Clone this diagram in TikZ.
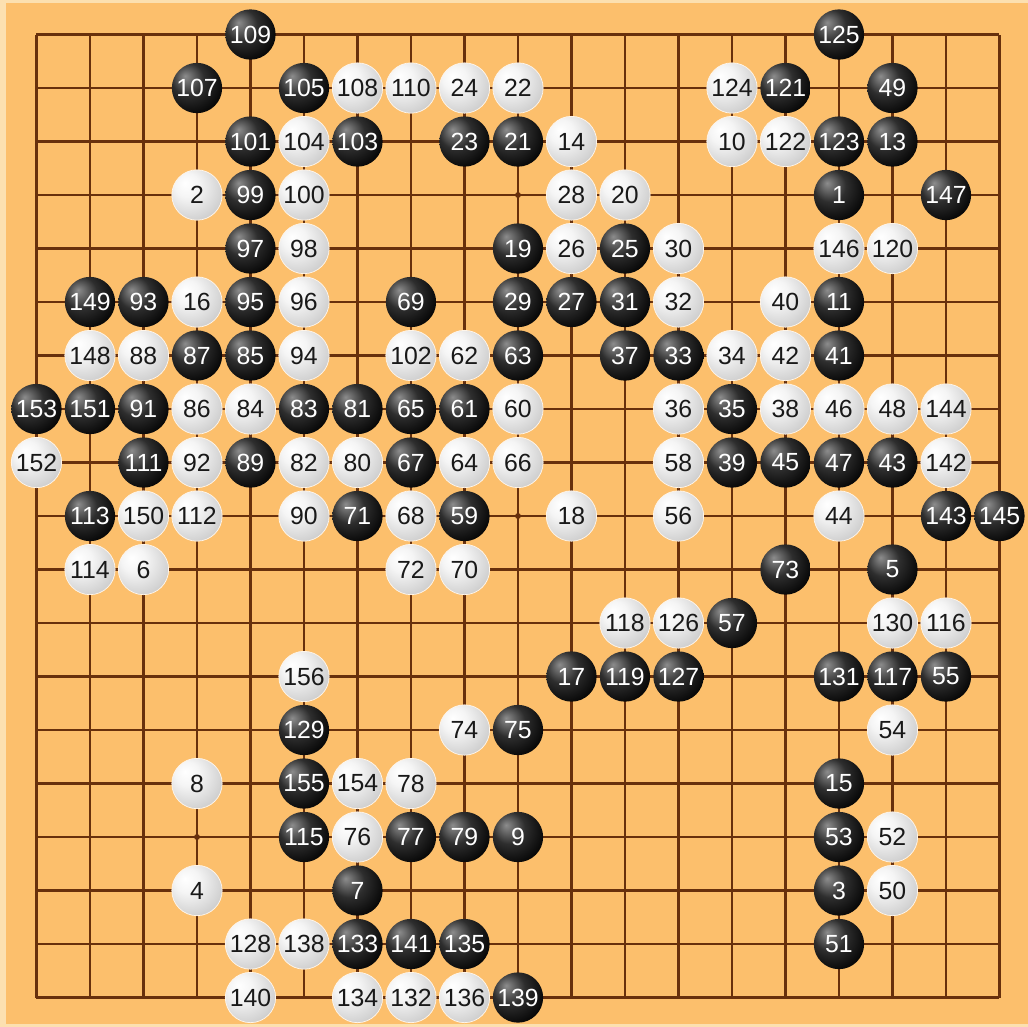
\documentclass[tikz,border=0pt]{standalone}
\usepackage{fontspec}
\setmainfont{Liberation Sans}
\usepackage{xcolor}
\usepackage{tikz}

\definecolor{boardbg}{RGB}{252,191,108}
\definecolor{boardrim}{RGB}{252,224,176}
\definecolor{gridline}{RGB}{104,48,12}

\pgfdeclareradialshading{blackstone}{\pgfpoint{-12bp}{12bp}}{%
  color(0bp)=(black!45); color(16bp)=(black!82); color(36bp)=(black); color(68bp)=(black)}
\pgfdeclareradialshading{whitestone}{\pgfpoint{-12bp}{12bp}}{%
  color(0bp)=(white); color(12bp)=(black!4); color(30bp)=(black!17); color(50bp)=(black!33); color(68bp)=(black!48)}

\begin{document}
\begin{tikzpicture}[
  stone/.style={circle, minimum size=0.94cm, inner sep=0pt,
                font=\fontsize{13.2}{14}\selectfont},
  bst/.style={stone, shading=blackstone, text=white},
  wst/.style={stone, shading=whitestone, draw=white!85!boardbg, line width=0.4pt, text=black!90},
  hoshi/.style={circle, fill=gridline, inner sep=0pt, minimum size=0.11cm}]

\useasboundingbox (-0.682,0.645) rectangle (18.533,-18.551);
\fill[boardrim] (-0.682,0.645) rectangle (18.533,-18.551);
\fill[boardbg] (-0.570,0.589) rectangle (18.533,-18.495);

% board
\draw[gridline, line width=1.1pt] (0,0) grid (18,-18);
\foreach \c in {3,9,15}
  \foreach \r in {3,9,15}
    \node[hoshi] (h\c-\r) at (\c,-\r) {};

% black stones
\foreach \c/\r/\n in {4/0/109, 15/0/125,
  3/1/107, 5/1/105, 14/1/121, 16/1/49,
  4/2/101, 6/2/103, 8/2/23, 9/2/21, 15/2/123, 16/2/13,
  4/3/99, 15/3/1, 17/3/147,
  4/4/97, 9/4/19, 11/4/25,
  1/5/149, 2/5/93, 4/5/95, 7/5/69, 9/5/29, 10/5/27, 11/5/31, 15/5/11,
  3/6/87, 4/6/85, 9/6/63, 11/6/37, 12/6/33, 15/6/41,
  0/7/153, 1/7/151, 2/7/91, 5/7/83, 6/7/81, 7/7/65, 8/7/61, 13/7/35,
  2/8/111, 4/8/89, 7/8/67, 13/8/39, 14/8/45, 15/8/47, 16/8/43,
  1/9/113, 6/9/71, 8/9/59, 17/9/143, 18/9/145,
  14/10/73, 16/10/5,
  13/11/57,
  10/12/17, 11/12/119, 12/12/127, 15/12/131, 16/12/117, 17/12/55,
  5/13/129, 9/13/75,
  5/14/155, 15/14/15,
  5/15/115, 7/15/77, 8/15/79, 9/15/9, 15/15/53,
  6/16/7, 15/16/3,
  6/17/133, 7/17/141, 8/17/135, 15/17/51,
  9/18/139}
  \node[bst] (m\n) at (\c,-\r) {\n};

% white stones
\foreach \c/\r/\n in {6/1/108, 7/1/110, 8/1/24, 9/1/22, 13/1/124,
  5/2/104, 10/2/14, 13/2/10, 14/2/122,
  3/3/2, 5/3/100, 10/3/28, 11/3/20,
  5/4/98, 10/4/26, 12/4/30, 15/4/146, 16/4/120,
  3/5/16, 5/5/96, 12/5/32, 14/5/40,
  1/6/148, 2/6/88, 5/6/94, 7/6/102, 8/6/62, 13/6/34, 14/6/42,
  3/7/86, 4/7/84, 9/7/60, 12/7/36, 14/7/38, 15/7/46, 16/7/48, 17/7/144,
  0/8/152, 3/8/92, 5/8/82, 6/8/80, 8/8/64, 9/8/66, 12/8/58, 17/8/142,
  2/9/150, 3/9/112, 5/9/90, 7/9/68, 10/9/18, 12/9/56, 15/9/44,
  1/10/114, 2/10/6, 7/10/72, 8/10/70,
  11/11/118, 12/11/126, 16/11/130, 17/11/116,
  5/12/156,
  8/13/74, 16/13/54,
  3/14/8, 6/14/154, 7/14/78,
  6/15/76, 16/15/52,
  3/16/4, 16/16/50,
  4/17/128, 5/17/138,
  4/18/140, 6/18/134, 7/18/132, 8/18/136}
  \node[wst] (m\n) at (\c,-\r) {\n};

\end{tikzpicture}
\end{document}
